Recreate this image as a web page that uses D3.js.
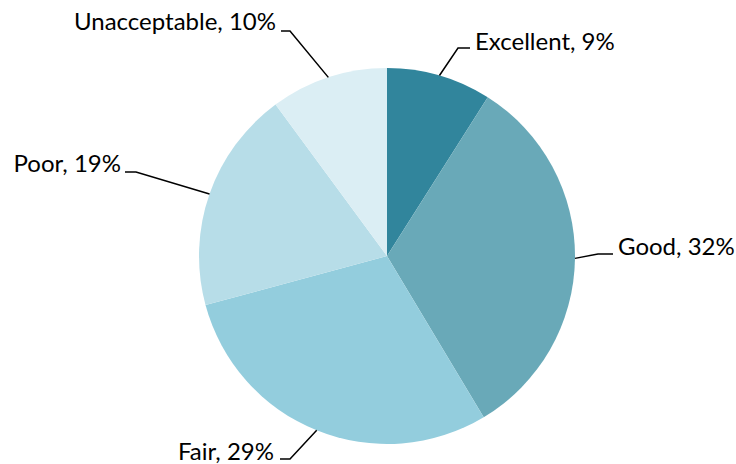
<!DOCTYPE html>
<html><head><meta charset="utf-8">
<script src="https://cdn.jsdelivr.net/npm/d3@7"></script>
<style>body{margin:0;background:#fff}svg{display:block}text{font-family:Lato,"Open Sans",sans-serif;font-size:24px;fill:#000}</style>
</head><body><svg id="c" width="736" height="464"></svg>
<script>
const categories = ["Excellent","Good","Fair","Poor","Unacceptable"];
const values = [9.0, 32.4, 29.4, 19.1, 10.1];
const pctLabels = ["9%","32%","29%","19%","10%"];
const colors = ["#31859C","#69A9B8","#93CDDD","#B7DDE8","#DBEEF4"];
// label layout: elbow point, line end, text anchor point
const layout = [
  {elbow:[458,48], end:[470,48], tx:475, ty:50, anchor:"start"},
  {elbow:[598,254], end:[613,254], tx:618, ty:255, anchor:"start"},
  {elbow:[290,459], end:[280,459], tx:274, ty:460, anchor:"end"},
  {elbow:[136,172], end:[125,172], tx:121, ty:172, anchor:"end"},
  {elbow:[290,31], end:[281,31], tx:276, ty:30, anchor:"end"}
];
const cx=387, cy=256, r=188;
const svg=d3.select("#c");
const g=svg.append("g").attr("transform",`translate(${cx},${cy})`);
const pie=d3.pie().sort(null).value(d=>d)(values);
const arc=d3.arc().innerRadius(0).outerRadius(r);
g.selectAll("path").data(pie).join("path").attr("d",arc).attr("fill",(d,i)=>colors[i]);
pie.forEach((d,i)=>{
  const a=(d.startAngle+d.endAngle)/2;
  const p=[cx+r*Math.sin(a), cy-r*Math.cos(a)];
  const L=layout[i];
  svg.append("polyline").attr("points",[p,L.elbow,L.end].map(q=>q.join(",")).join(" "))
    .attr("fill","none").attr("stroke","#000").attr("stroke-width",1.5);
  svg.append("text").attr("x",L.tx).attr("y",L.ty).attr("text-anchor",L.anchor)
    .text(categories[i]+", "+pctLabels[i]);
});
</script></body></html>
